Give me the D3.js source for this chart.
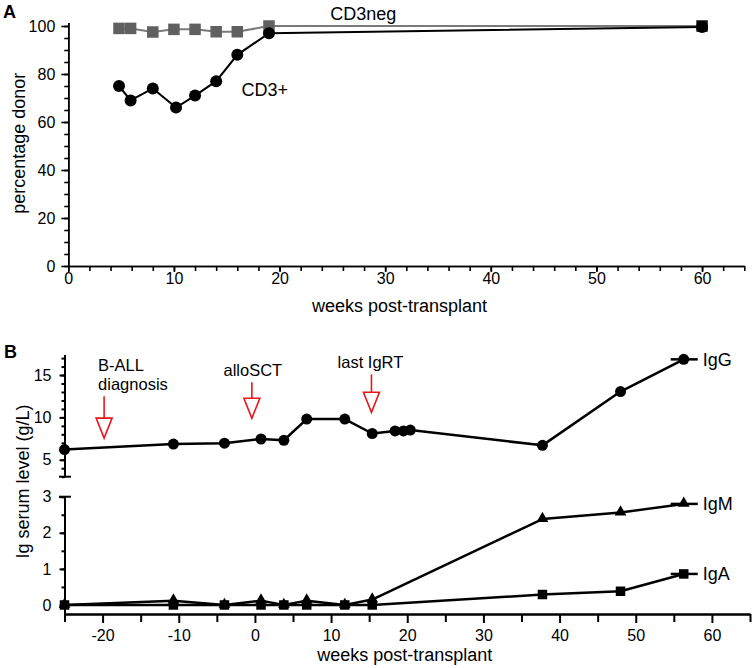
<!DOCTYPE html>
<html>
<head>
<meta charset="utf-8">
<script src="https://cdn.jsdelivr.net/npm/d3@7"></script>
<style>
body { margin: 0; background: #fff; }
text { font-family: Arial, "Liberation Sans", sans-serif; }
</style>
</head>
<body>
<script>
// ---- panel A: donor chimerism ----
const weeksNeg = [4.8, 5.9, 8, 10, 12, 14, 16, 19, 60];
const cd3neg   = [99, 99, 97.5, 98.6, 98.6, 97.6, 97.6, 100, 100];
const weeksPos = [4.8, 5.9, 8, 10.2, 12, 14, 16, 19, 60];
const cd3pos   = [75, 69, 74, 66, 71, 77, 88, 97, 99.6];
const labelsA  = [{text: "CD3neg", x: 24.8, y: 102.6}, {text: "CD3+", x: 16.4, y: 70.7}];

// ---- panel B: Ig serum levels ----
const weeksIgG = [-25, -10.7, -4, 0.8, 3.8, 6.8, 11.8, 15.4, 18.4, 19.5, 20.4, 37.75, 48, 56.3];
const igG      = [6.2, 6.85, 6.95, 7.45, 7.3, 9.8, 9.8, 8.1, 8.4, 8.4, 8.5, 6.7, 13.05, 16.85];
const weeksIgMA = [-25, -10.7, -4, 0.8, 3.8, 6.8, 11.8, 15.4, 37.75, 48, 56.3];
const igM      = [0, 0.12, 0, 0.12, 0, 0.12, 0, 0.15, 2.38, 2.56, 2.8];
const igA      = [0, 0, 0, 0, 0, 0, 0, 0, 0.29, 0.38, 0.86];
const noteLabels = [["B-ALL", "diagnosis"], ["alloSCT"], ["last IgRT"]];
const noteWeeks  = [-19.8, -0.4, 15.3];
const noteTips   = [7.55, 9.9, 10.6];

const fontFam = 'Arial, "Liberation Sans", sans-serif';
const red = "#e8161b";
const grey = "#606060";
const plain = d => String(d);   // hyphen minus, no trailing ".0"

const svg = d3.select("body").append("svg")
    .attr("width", 756)
    .attr("height", 668);

function fixAxis(g, w, fs) {
    g.attr("font-family", fontFam).attr("font-size", fs);
    g.select(".domain").attr("stroke-width", w).attr("stroke", "#000");
    g.selectAll(".tick line").attr("stroke-width", w).attr("stroke", "#000");
    g.selectAll(".tick text").attr("fill", "#000");
}

// ================= Panel A =================
const xA = d3.scaleLinear().domain([0, 64]).range([68.3, 744.3]);
const yA = d3.scaleLinear().domain([0, 101.5]).range([266, 22.4]);

svg.append("g").attr("transform", "translate(0,266)")
    .call(d3.axisBottom(xA).tickValues(d3.range(0, 65, 2)).tickSize(5).tickFormat("").tickSizeOuter(0))
    .call(g => fixAxis(g, 1.6, 16));
svg.append("g").attr("transform", "translate(0,266)")
    .call(d3.axisBottom(xA).tickValues(d3.range(0, 61, 10)).tickSize(6).tickPadding(0.5).tickFormat(plain).tickSizeOuter(0))
    .call(g => fixAxis(g, 1.6, 16));
svg.append("g").attr("transform", "translate(68.3,0)")
    .call(d3.axisLeft(yA).tickValues(d3.range(0, 101, 5)).tickSize(4).tickFormat("").tickSizeOuter(0))
    .call(g => fixAxis(g, 1.6, 16));
svg.append("g").attr("transform", "translate(68.3,0)")
    .call(d3.axisLeft(yA).tickValues(d3.range(0, 101, 20)).tickSize(7).tickPadding(6).tickFormat(plain).tickSizeOuter(0))
    .call(g => fixAxis(g, 1.6, 16));

const negData = weeksNeg.map((w, i) => ({x: w, y: cd3neg[i]}));
const posData = weeksPos.map((w, i) => ({x: w, y: cd3pos[i]}));
const lineA = d3.line().x(d => xA(d.x)).y(d => yA(d.y));

svg.append("path").datum(negData).attr("d", lineA)
    .attr("fill", "none").attr("stroke", "#7a7a7a").attr("stroke-width", 2);
svg.append("path").datum(posData).attr("d", lineA)
    .attr("fill", "none").attr("stroke", "#000").attr("stroke-width", 2);

const sqA = 11.5;
svg.selectAll(".sqA").data(negData).join("rect").attr("class", "sqA")
    .attr("x", d => xA(d.x) - sqA / 2).attr("y", d => yA(d.y) - sqA / 2)
    .attr("width", sqA).attr("height", sqA)
    .attr("fill", (d, i) => i === negData.length - 1 ? "#111" : grey);
svg.selectAll(".dotA").data(posData).join("circle").attr("class", "dotA")
    .attr("cx", d => xA(d.x)).attr("cy", d => yA(d.y)).attr("r", 6)
    .attr("fill", "#000");

svg.selectAll(".labA").data(labelsA).join("text").attr("class", "labA")
    .attr("x", d => xA(d.x)).attr("y", d => yA(d.y))
    .attr("font-size", 18).text(d => d.text);

svg.append("text").attr("x", 399.5).attr("y", 312).attr("text-anchor", "middle")
    .attr("font-size", 18).text("weeks post-transplant");
svg.append("text").attr("transform", "translate(25,143.3) rotate(-90)")
    .attr("text-anchor", "middle").attr("font-size", 18).text("percentage donor");
svg.append("text").attr("x", 3).attr("y", 18).attr("font-weight", "bold")
    .attr("font-size", 18).text("A");

// ================= Panel B =================
const xB = d3.scaleLinear().domain([-25, 65]).range([64.5, 750]);
const yUp = d3.scaleLinear().domain([3, 17.4]).range([476.7, 354.7]);
const yLo = d3.scaleLinear().domain([-0.25, 3]).range([614, 496.7]);

svg.append("g").attr("transform", "translate(0,614)")
    .call(d3.axisBottom(xB).tickValues(d3.range(-25, 66, 10)).tickSize(8).tickFormat("").tickSizeOuter(0))
    .call(g => fixAxis(g, 2, 16));
svg.append("g").attr("transform", "translate(0,614)")
    .call(d3.axisBottom(xB).tickValues(d3.range(-20, 61, 10)).tickSize(9).tickPadding(7).tickFormat(plain).tickSizeOuter(0))
    .call(g => fixAxis(g, 2, 16));

svg.append("g").attr("transform", "translate(64.5,0)")
    .call(d3.axisLeft(yUp).tickValues(d3.range(3, 18, 1)).tickSize(3).tickFormat("").tickSizeOuter(0))
    .call(g => fixAxis(g, 2, 16));
svg.append("g").attr("transform", "translate(64.5,0)")
    .call(d3.axisLeft(yUp).tickValues([5, 10, 15]).tickSize(5).tickPadding(8).tickFormat(plain).tickSizeOuter(0))
    .call(g => fixAxis(g, 2, 16));
svg.append("g").attr("transform", "translate(64.5,0)")
    .call(d3.axisLeft(yLo).tickValues(d3.range(0, 3.01, 0.5)).tickSize(3).tickFormat("").tickSizeOuter(0))
    .call(g => fixAxis(g, 2, 16));
svg.append("g").attr("transform", "translate(64.5,0)")
    .call(d3.axisLeft(yLo).tickValues([0, 1, 2, 3]).tickSize(5).tickPadding(8).tickFormat(plain).tickSizeOuter(0))
    .call(g => fixAxis(g, 2, 16));

// axis break marks
[yUp(3), yLo(3)].forEach(yy => {
    svg.append("line").attr("x1", 59).attr("x2", 71).attr("y1", yy).attr("y2", yy)
        .attr("stroke", "#000").attr("stroke-width", 2);
});

const gData = weeksIgG.map((w, i) => ({x: w, y: igG[i]}));
const mData = weeksIgMA.map((w, i) => ({x: w, y: igM[i]}));
const aData = weeksIgMA.map((w, i) => ({x: w, y: igA[i]}));
const lineUp = d3.line().x(d => xB(d.x)).y(d => yUp(d.y));
const lineLo = d3.line().x(d => xB(d.x)).y(d => yLo(d.y));

[[mData, lineLo], [aData, lineLo], [gData, lineUp]].forEach(([data, ln]) => {
    svg.append("path").datum(data).attr("d", ln)
        .attr("fill", "none").attr("stroke", "#000").attr("stroke-width", 2.5)
        .attr("stroke-linejoin", "round");
});

// end-of-series label ticks
const ends = [
    {name: "IgG", d: gData[gData.length - 1], y: yUp},
    {name: "IgM", d: mData[mData.length - 1], y: yLo},
    {name: "IgA", d: aData[aData.length - 1], y: yLo}
];
ends.forEach(e => {
    const cy = e.y(e.d.y);
    svg.append("line").attr("x1", xB(e.d.x) - 13).attr("x2", xB(e.d.x) + 14)
        .attr("y1", cy).attr("y2", cy).attr("stroke", "#000").attr("stroke-width", 2.5);
    svg.append("text").attr("x", xB(58.8)).attr("y", cy + 6.5)
        .attr("font-size", 18).text(e.name);
});

const tri = d3.symbol().type(d3.symbolTriangle).size(60);
svg.selectAll(".triB").data(mData).join("path").attr("class", "triB")
    .attr("d", tri).attr("transform", d => `translate(${xB(d.x)},${yLo(d.y) - 0.5})`)
    .attr("fill", "#000");
const sqB = 9.5;
svg.selectAll(".sqB").data(aData).join("rect").attr("class", "sqB")
    .attr("x", d => xB(d.x) - sqB / 2).attr("y", d => yLo(d.y) - sqB / 2)
    .attr("width", sqB).attr("height", sqB).attr("fill", "#000");
svg.selectAll(".dotB").data(gData).join("circle").attr("class", "dotB")
    .attr("cx", d => xB(d.x)).attr("cy", d => yUp(d.y)).attr("r", 5.5)
    .attr("fill", "#000");

// red event arrows
const noteStem = [22, 16, 18];
const noteAnchor = ["start", "middle", "middle"];
const noteDx = [-6, 1, -1];
noteLabels.forEach((lines, i) => {
    const x = xB(noteWeeks[i]);
    const tip = yUp(noteTips[i]);
    const headTop = tip - 20;
    const stemTop = headTop - noteStem[i];
    svg.append("line").attr("x1", x).attr("x2", x).attr("y1", stemTop).attr("y2", headTop)
        .attr("stroke", red).attr("stroke-width", 1.6);
    svg.append("path")
        .attr("d", `M${x - 8},${headTop}L${x + 8},${headTop}L${x},${tip}Z`)
        .attr("fill", "#fff").attr("stroke", red).attr("stroke-width", 1.6);
    lines.forEach((t, j) => {
        svg.append("text").attr("x", x + noteDx[i])
            .attr("y", stemTop - 6 - (lines.length - 1 - j) * 19)
            .attr("text-anchor", noteAnchor[i]).attr("font-size", 16.5).text(t);
    });
});

svg.append("text").attr("x", 404.8).attr("y", 661).attr("text-anchor", "middle")
    .attr("font-size", 18).text("weeks post-transplant");
svg.append("text").attr("transform", "translate(28.5,481.5) rotate(-90)")
    .attr("text-anchor", "middle").attr("font-size", 18).text("Ig serum level (g/L)");
svg.append("text").attr("x", 4).attr("y", 358).attr("font-weight", "bold")
    .attr("font-size", 18).text("B");
</script>
</body>
</html>
